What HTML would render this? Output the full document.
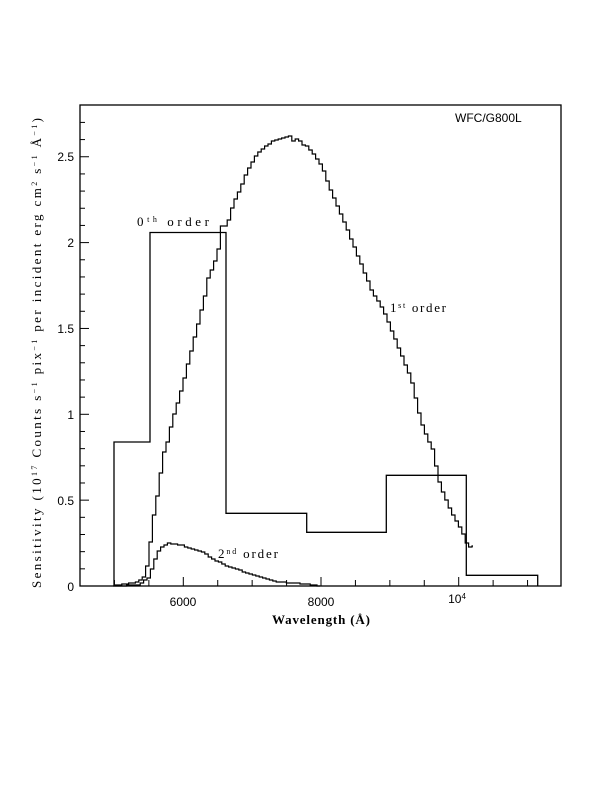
<!DOCTYPE html>
<html><head><style>
body{margin:0;background:#fff;}
svg{display:block;}
.s{font-family:"Liberation Serif",serif;font-size:13px;}
.a{font-family:"Liberation Sans",sans-serif;font-size:12px;}
</style></head><body>
<svg id="g" width="612" height="792" xmlns="http://www.w3.org/2000/svg">
<rect x="80" y="105" width="481" height="481" fill="none" stroke="#000" stroke-width="1.3"/>
<g id="ticks" stroke="#000" stroke-width="1"></g>
<g class="a" text-anchor="end">
<text x="74" y="591">0</text>
<text x="74" y="505">0.5</text>
<text x="74" y="419">1</text>
<text x="74" y="333">1.5</text>
<text x="74" y="247">2</text>
<text x="74" y="161">2.5</text>
</g>
<g class="a" text-anchor="middle">
<text x="183" y="606">6000</text>
<text x="321" y="606">8000</text>
<text x="457" y="603">10<tspan font-size="8" dy="-4">4</tspan></text>
</g>
<text class="a" x="455" y="122">WFC/G800L</text>
<text class="s" x="272" y="624" textLength="98" lengthAdjust="spacing" font-weight="bold">Wavelength (Å)</text>
<text class="s" transform="translate(41,588) rotate(-90)" textLength="470" lengthAdjust="spacing">Sensitivity (10<tspan font-size="8" dy="-4">17</tspan><tspan dy="4"> Counts s</tspan><tspan font-size="8" dy="-4">−1</tspan><tspan dy="4"> pix</tspan><tspan font-size="8" dy="-4">−1</tspan><tspan dy="4"> per incident erg cm</tspan><tspan font-size="8" dy="-4">2</tspan><tspan dy="4"> s</tspan><tspan font-size="8" dy="-4">−1</tspan><tspan dy="4"> Å</tspan><tspan font-size="8" dy="-4">−1</tspan><tspan dy="4">)</tspan></text>
<text class="s" x="137" y="226" textLength="72" lengthAdjust="spacing">0<tspan font-size="8" dy="-4">th</tspan><tspan dy="4"> order</tspan></text>
<text class="s" x="390" y="312" textLength="56" lengthAdjust="spacing">1<tspan font-size="8" dy="-4">st</tspan><tspan dy="4"> order</tspan></text>
<text class="s" x="218" y="558" textLength="60" lengthAdjust="spacing">2<tspan font-size="8" dy="-4">nd</tspan><tspan dy="4"> order</tspan></text>
<path d="M114,586 V442 H150 V232.5 H226 V513.3 H306.7 V532.3 H386.3 V475.3 H466.3 V575.3 H537.7 V586" fill="none" stroke="#000" stroke-width="1.3"/>
<path id="p1" fill="none" stroke="#000" stroke-width="1.2"/>
<path id="p2" fill="none" stroke="#000" stroke-width="1.2"/>
</svg>
<script>
var t=document.getElementById('ticks'),h='';
for(var i=1;i<=27;i++){var y=586-i*17.17;var L=(i%5==0)?9:5;h+='<line x1="80" x2="'+(80+L)+'" y1="'+y+'" y2="'+y+'"/>';}
for(var l=5000;l<=11000;l+=500){var x=183.3+(l-6000)*0.06885;if(x<81||x>560)continue;var L=(l%2000==0)?9:6;h+='<line x1="'+x+'" x2="'+x+'" y1="586" y2="'+(586-L)+'"/>';}
t.innerHTML=h;
function step(pts,w){var d='';var x0=pts[0][0],x1=pts[pts.length-1][0];var prev=null;
for(var x=x0;x<=x1;x+=w){var j=0;while(j<pts.length-2&&pts[j+1][0]<x)j++;var a=pts[j],b=pts[j+1];var y=a[1]+(b[1]-a[1])*(x-a[0])/(b[0]-a[0]);y=Math.round(y);
if(prev===null)d='M'+x.toFixed(1)+','+y;else d+=' V'+y;d+=' H'+Math.min(x+w,x1).toFixed(1);prev=y;}return d;}
var p1=[[115,585],[136.7,582],[141.7,578],[145,570],[147.3,553],[150,535],[152.7,512],[156.7,492],[161.7,455],[166.7,440],[171,420],[180,390],[190,350],[203,298],[207,277],[211.7,266],[216.7,252],[219.3,226],[225,226],[228.3,217],[231.7,204],[235,197],[240,186],[243.3,177],[248.3,167],[253.3,157],[258.3,152],[265,146],[270,142],[276.7,139],[288.3,136],[290,142],[296.7,138],[300,144],[306.7,147],[320,165],[330,192],[340,215],[350,240],[360,265],[370,290],[382,310],[390,330],[400,355],[410,380],[419.3,420],[426.7,440],[431.7,450],[437.3,480],[443.3,497],[448.3,508],[453.3,518],[460,530],[465,542],[467,548],[473,546]];
var p2=[[113,586],[136.7,585],[148,577],[153.3,560],[158.3,548],[166.7,543],[180,545],[193.3,550],[203.3,553],[210,558],[223.3,565],[243.3,572],[260,577],[276.7,582],[293.3,583],[313.3,585],[320,586]];
document.getElementById('p1').setAttribute('d',step(p1,3.4));
document.getElementById('p2').setAttribute('d',step(p2,3.4));
</script>
</body></html>
